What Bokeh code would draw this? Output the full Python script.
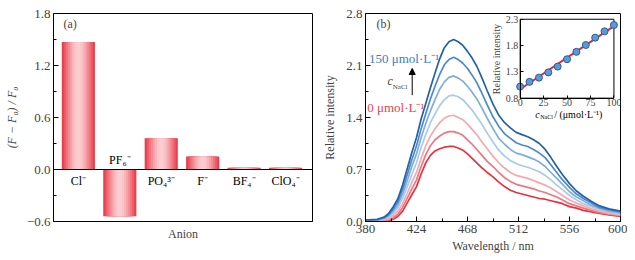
from bokeh.plotting import figure
from bokeh.layouts import row
from bokeh.models import (Range1d, LinearAxis, FixedTicker, CustomJSTickFormatter,
                          Span, Arrow, NormalHead, Label)
from bokeh.core.properties import value
from bokeh.embed import file_html
from bokeh.resources import INLINE

FONT = "Liberation Serif"

# ---------------- data: panel (a) ----------------
anions = ["Cl⁻", "PF₆⁻", "PO₄³⁻", "F⁻", "BF₄⁻", "ClO₄⁻"]
response = [1.47, -0.54, 0.36, 0.15, 0.02, 0.02]
a_yticks = [-0.6, 0.0, 0.6, 1.2, 1.8]
a_yminor = [-0.3, 0.3, 0.9, 1.5]

# ---------------- data: panel (b) ----------------
wavelength = [380, 390, 396, 400, 404, 408, 412, 416, 420, 424, 428, 432, 436, 440, 444,
              448, 452, 456, 460, 464, 468, 472, 476, 480, 485, 490, 495, 500, 505, 510,
              515, 520, 525, 530, 535, 540, 545, 550, 556, 562, 568, 575, 582, 590, 600]
spec_0 = [0.00, 0.00, 0.00, 0.01, 0.03, 0.07, 0.14, 0.25, 0.36, 0.47, 0.64, 0.79, 0.89, 0.95, 0.98,
          1.00, 1.01, 1.01, 0.99, 0.96, 0.91, 0.85, 0.79, 0.73, 0.66, 0.60, 0.53, 0.47, 0.42, 0.39,
          0.37, 0.35, 0.33, 0.31, 0.30, 0.28, 0.26, 0.24, 0.20, 0.18, 0.15, 0.13, 0.11, 0.09, 0.07]
spec_25 = [0.00, 0.00, 0.01, 0.02, 0.05, 0.10, 0.19, 0.31, 0.44, 0.56, 0.74, 0.90, 1.02, 1.10, 1.15,
           1.19, 1.21, 1.21, 1.19, 1.16, 1.10, 1.04, 0.97, 0.90, 0.81, 0.74, 0.66, 0.59, 0.54, 0.50,
           0.48, 0.46, 0.44, 0.41, 0.39, 0.36, 0.33, 0.29, 0.24, 0.21, 0.18, 0.15, 0.12, 0.10, 0.08]
spec_50 = [0.01, 0.01, 0.02, 0.04, 0.08, 0.14, 0.24, 0.38, 0.53, 0.66, 0.85, 1.02, 1.15, 1.25, 1.33,
           1.39, 1.42, 1.43, 1.40, 1.37, 1.31, 1.24, 1.17, 1.08, 0.98, 0.88, 0.79, 0.72, 0.66, 0.62,
           0.60, 0.58, 0.55, 0.52, 0.49, 0.45, 0.40, 0.35, 0.29, 0.25, 0.21, 0.17, 0.14, 0.11, 0.09]
spec_75 = [0.01, 0.01, 0.03, 0.06, 0.11, 0.19, 0.31, 0.47, 0.63, 0.79, 1.00, 1.17, 1.33, 1.45, 1.56,
           1.64, 1.69, 1.70, 1.68, 1.64, 1.57, 1.50, 1.41, 1.32, 1.19, 1.07, 0.96, 0.88, 0.82, 0.78,
           0.75, 0.73, 0.70, 0.67, 0.62, 0.56, 0.49, 0.43, 0.35, 0.29, 0.24, 0.20, 0.16, 0.13, 0.10]
spec_100 = [0.01, 0.02, 0.04, 0.08, 0.14, 0.23, 0.37, 0.55, 0.74, 0.91, 1.13, 1.32, 1.49, 1.64, 1.78,
            1.88, 1.94, 1.96, 1.93, 1.89, 1.82, 1.74, 1.65, 1.54, 1.39, 1.25, 1.12, 1.04, 0.97, 0.92,
            0.90, 0.87, 0.84, 0.80, 0.74, 0.66, 0.58, 0.50, 0.40, 0.33, 0.28, 0.22, 0.18, 0.14, 0.12]
spec_125 = [0.02, 0.02, 0.05, 0.09, 0.17, 0.27, 0.43, 0.63, 0.83, 1.02, 1.25, 1.45, 1.65, 1.82, 1.98,
            2.11, 2.18, 2.21, 2.18, 2.13, 2.06, 1.97, 1.87, 1.74, 1.57, 1.41, 1.28, 1.18, 1.12, 1.06,
            1.03, 1.01, 0.97, 0.92, 0.86, 0.76, 0.66, 0.56, 0.46, 0.37, 0.31, 0.25, 0.19, 0.16, 0.13]
spec_150 = [0.02, 0.03, 0.06, 0.11, 0.20, 0.31, 0.49, 0.71, 0.93, 1.13, 1.38, 1.59, 1.80, 2.00, 2.19,
            2.34, 2.42, 2.45, 2.42, 2.37, 2.29, 2.20, 2.09, 1.95, 1.76, 1.58, 1.43, 1.33, 1.26, 1.20,
            1.17, 1.14, 1.10, 1.05, 0.97, 0.86, 0.74, 0.63, 0.51, 0.41, 0.34, 0.27, 0.21, 0.17, 0.14]
b_xticks = [380, 424, 468, 512, 556, 600]
b_xminor = [402, 446, 490, 534, 578]
b_yticks = [0.0, 0.7, 1.4, 2.1, 2.8]
b_yminor = [0.35, 1.05, 1.75, 2.45]

# inset data
ins_conc = [0, 10, 20, 30, 40, 50, 60, 70, 80, 90, 100]
ins_intensity = [1.02, 1.11, 1.19, 1.29, 1.40, 1.54, 1.68, 1.81, 1.95, 2.07, 2.19]
fit_conc = [0, 100]
fit_intensity = [0.97, 2.17]
ins_xticks = [0, 25, 50, 75, 100]
ins_yticks = [0.8, 1.3, 1.8, 2.3]

# ---------------- styles ----------------
bar_layers = [(0.80, "#E8404C"), (0.70, "#EC5A65"), (0.60, "#F0737D"), (0.50, "#F38B93"),
              (0.40, "#F6A2A9"), (0.30, "#F8B6BB"), (0.20, "#FAC5C9"), (0.10, "#FBCDD0")]
spec_colors = ["#E8313D", "#EF7580", "#F5A9AF", "#A9CBEA", "#7DAEDD", "#4D89CA", "#2261AA"]


def style_axis(ax, size="13px"):
    ax.major_label_text_font = FONT
    ax.major_label_text_font_size = size
    ax.axis_label_text_font = FONT
    ax.axis_label_text_font_size = "12px"
    ax.axis_label_text_font_style = "normal"
    ax.major_tick_in = 5
    ax.major_tick_out = 0
    ax.minor_tick_in = 3
    ax.minor_tick_out = 0
    ax.axis_line_color = "black"
    ax.major_tick_line_color = "black"
    ax.minor_tick_line_color = "black"
    ax.major_label_standoff = 3


fmt1 = CustomJSTickFormatter(code="return tick.toFixed(1).replace('-', '\u2212')")

# ---------------- panel (a) ----------------
pa = figure(width=320, height=258, output_backend="svg", toolbar_location=None,
            x_range=Range1d(-0.6, 5.65), y_range=Range1d(-0.6, 1.8),
            min_border_left=53, min_border_right=8, min_border_top=13, min_border_bottom=37)
pa.grid.visible = False
pa.outline_line_color = "black"
pa.outline_line_alpha = 1
idx = list(range(len(anions)))
for w, c in bar_layers:
    pa.vbar(x=idx, width=w, top=response, bottom=0, fill_color=c, line_color=None)
pa.add_layout(Span(location=0, dimension="width", line_color="black", line_width=1))

pos = [i for i in idx if response[i] >= 0]
neg = [i for i in idx if response[i] < 0]
pa.text(x=pos, y=[0] * len(pos), text=[anions[i] for i in pos], text_align="center",
        text_baseline="top", y_offset=4, text_font=value(FONT), text_font_size="12px",
        text_color="black")
pa.text(x=neg, y=[0] * len(neg), text=[anions[i] for i in neg], text_align="center",
        text_baseline="bottom", y_offset=-3, text_font=value(FONT), text_font_size="12px",
        text_color="black")

style_axis(pa.yaxis[0])
pa.yaxis.ticker = FixedTicker(ticks=a_yticks, minor_ticks=a_yminor)
pa.yaxis.formatter = fmt1
pa.yaxis.axis_label = "(F − F₀) / F₀"
pa.yaxis.axis_label_text_font_style = "italic"
pa.yaxis.axis_label_standoff = 5
style_axis(pa.xaxis[0])
pa.xaxis.ticker = FixedTicker(ticks=[])
pa.xaxis.axis_label = "Anion"
pa.xaxis.axis_label_standoff = 5
pa.add_layout(Label(x=-0.36, y=1.675, text="(a)", text_font=FONT, text_font_size="12px",
                    text_baseline="middle"))

# ---------------- panel (b) ----------------
pb = figure(width=307, height=258, output_backend="svg", toolbar_location=None,
            x_range=Range1d(380, 600), y_range=Range1d(0, 2.8),
            min_border_left=42, min_border_right=7, min_border_top=13, min_border_bottom=37)
pb.grid.visible = False
pb.outline_line_color = "black"
pb.outline_line_alpha = 1
all_specs = [spec_0, spec_25, spec_50, spec_75, spec_100, spec_125, spec_150]
for s, c in zip(all_specs, spec_colors):
    pb.line(wavelength, s, line_color=c, line_width=1.7)

style_axis(pb.yaxis[0])
pb.yaxis.ticker = FixedTicker(ticks=b_yticks, minor_ticks=b_yminor)
pb.yaxis.formatter = fmt1
pb.yaxis.axis_label = "Relative intensity"
pb.yaxis.axis_label_standoff = 6
style_axis(pb.xaxis[0])
pb.xaxis.ticker = FixedTicker(ticks=b_xticks, minor_ticks=b_xminor)
pb.xaxis.axis_label = "Wavelength / nm"
pb.xaxis.axis_label_standoff = 3

# annotations
pb.add_layout(Label(x=383, y=2.2, text="150 μmol·L⁻¹", text_font=FONT, text_font_size="13px",
                    text_color="#3C7CC3", text_baseline="middle"))
pb.add_layout(Label(x=381.5, y=1.535, text="0 μmol·L⁻¹", text_font=FONT, text_font_size="13px",
                    text_color="#E8434C", text_baseline="middle"))
pb.add_layout(Label(x=399, y=1.89, text="c", text_font=FONT, text_font_size="12px",
                    text_font_style="italic", text_baseline="middle"))
pb.add_layout(Label(x=403.5, y=1.81, text="NaCl", text_font=FONT, text_font_size="7px",
                    text_baseline="middle"))
pb.add_layout(Arrow(end=NormalHead(size=6, fill_color="black", line_color="black"),
                    x_start=420.3, y_start=1.70, x_end=420.3, y_end=2.06,
                    line_color="black", line_width=1))
pb.add_layout(Label(x=389.5, y=2.655, text="(b)", text_font=FONT, text_font_size="12px",
                    text_baseline="middle"))

# inset via extra ranges mapped onto the upper-right part of the frame
pb.extra_x_ranges = {"ix": Range1d(-164.9, 107.0)}
pb.extra_y_ranges = {"iy": Range1d(-1.544, 2.409)}
pb.quad(left=[ins_xticks[0]], right=[ins_xticks[-1]], bottom=[ins_yticks[0]], top=[ins_yticks[-1]],
        fill_color="white", line_color="black", line_width=1, x_range_name="ix", y_range_name="iy")
pb.line(fit_conc, fit_intensity, line_color="#E8262E", line_width=2,
        x_range_name="ix", y_range_name="iy")
pb.scatter(ins_conc, ins_intensity, size=7, fill_color="#5B9BD5", line_color="#2B5C9B",
           line_width=1, x_range_name="ix", y_range_name="iy")

ixa = LinearAxis(x_range_name="ix", y_range_name="iy", fixed_location=ins_yticks[0],
                 bounds=(ins_xticks[0], ins_xticks[-1]), ticker=FixedTicker(ticks=ins_xticks))
style_axis(ixa, "10px")
ixa.major_tick_in = 3
ixa.major_label_standoff = 1
pb.add_layout(ixa, "below")
iya = LinearAxis(x_range_name="ix", y_range_name="iy", fixed_location=ins_xticks[0],
                 bounds=(ins_yticks[0], ins_yticks[-1]), ticker=FixedTicker(ticks=ins_yticks),
                 axis_label="Relative intensity")
style_axis(iya, "10px")
iya.major_tick_in = 3
iya.major_label_standoff = 2
iya.axis_label_text_font_size = "10px"
iya.axis_label_standoff = 1
iya.formatter = fmt1
pb.add_layout(iya, "left")

# inset x label: c_NaCl / (μmol·L⁻¹)
pb.text(x=[ins_xticks[0]], y=[ins_yticks[0]], text=["c"], x_offset=15, y_offset=16,
        text_font=value(FONT), text_font_size="10px", text_font_style="italic",
        text_baseline="middle", x_range_name="ix", y_range_name="iy")
pb.text(x=[ins_xticks[0]], y=[ins_yticks[0]], text=["NaCl"], x_offset=20, y_offset=18.5,
        text_font=value(FONT), text_font_size="6px",
        text_baseline="middle", x_range_name="ix", y_range_name="iy")
pb.text(x=[ins_xticks[0]], y=[ins_yticks[0]], text=["/ (μmol·L⁻¹)"], x_offset=34, y_offset=16,
        text_font=value(FONT), text_font_size="10px",
        text_baseline="middle", x_range_name="ix", y_range_name="iy")

layout = row(pa, pb, spacing=0)
open("out.html", "w").write(file_html(layout, INLINE))
